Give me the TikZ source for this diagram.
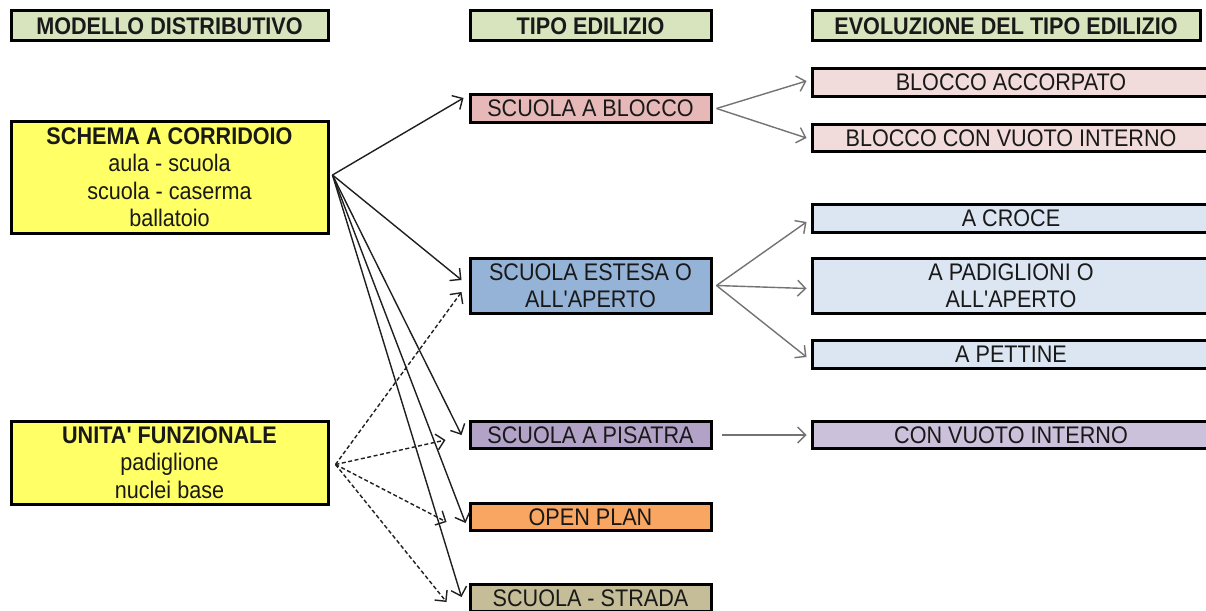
\documentclass[tikz,border=0pt]{standalone}
\usepackage{fontspec}
\newfontfamily\boxfont[FakeStretch=0.9]{Liberation Sans}
\usetikzlibrary{arrows.meta}
\definecolor{hdr}{HTML}{D7E4BD}
\definecolor{yel}{HTML}{FFFF66}
\definecolor{rose}{HTML}{E6B9B8}
\definecolor{rosel}{HTML}{F2DCDB}
\definecolor{blu}{HTML}{95B3D7}
\definecolor{blul}{HTML}{DCE6F2}
\definecolor{lil}{HTML}{B3A2C7}
\definecolor{lill}{HTML}{CCC1DA}
\definecolor{ora}{HTML}{F8A661}
\definecolor{tan}{HTML}{C4BD97}
\begin{document}
\begin{tikzpicture}[x=1pt,y=-1pt,
  box/.style={draw=black,line width=3pt,inner sep=0pt,align=center,
    text=black!90,font=\boxfont\fontsize{24}{26.5}\selectfont},
  hbox/.style={box,fill=hdr,minimum height=30pt,font=\boxfont\fontsize{24}{26}\selectfont\bfseries},
  left/.style={box,fill=yel,minimum width=317pt},
  mid/.style={box,minimum width=241pt,minimum height=27.5pt},
  evo/.style={box,minimum width=398pt,minimum height=27.5pt},
  link/.style={line width=1.4pt,draw=black!88,-{Straight Barb[length=8pt,width=16pt]}},
  dlink/.style={link,dash pattern=on 4pt off 2.5pt},
  glink/.style={link,draw=black!55}]
\useasboundingbox (0,0) rectangle (1206,610);
\fill[white] (0,0) rectangle (1206,610);

% column headers
\node[hbox,minimum width=317pt] (h1) at (169.5,26) {MODELLO DISTRIBUTIVO};
\node[hbox,minimum width=241pt] (h2) at (590.5,26) {TIPO EDILIZIO};
\node[hbox,minimum width=388pt] (h3) at (1006,26) {EVOLUZIONE DEL TIPO EDILIZIO};

% distributive models
\node[left,minimum height=112pt,font=\boxfont\fontsize{24}{27.5}\selectfont] (schema) at (169.5,177)
  {\textbf{SCHEMA A CORRIDOIO}\\aula - scuola\\scuola - caserma\\ballatoio};
\node[left,minimum height=83pt,font=\boxfont\fontsize{24}{27.5}\selectfont] (unita) at (169.5,462.5)
  {\textbf{UNITA' FUNZIONALE}\\padiglione\\nuclei base};

% building types
\node[mid,fill=rose] (blocco) at (590.5,108.5) {SCUOLA A BLOCCO};
\node[mid,fill=blu,minimum height=55pt] (estesa) at (590.5,285.5) {SCUOLA ESTESA O\\ALL'APERTO};
\node[mid,fill=lil] (pisatra) at (590.5,435) {SCUOLA A PISATRA};
\node[mid,fill=ora] (openplan) at (590.5,517) {OPEN PLAN};
\node[mid,fill=tan] (strada) at (590.5,598) {SCUOLA - STRADA};

% evolutions
\node[evo,fill=rosel] (accorpato) at (1011,82.5) {BLOCCO ACCORPATO};
\node[evo,fill=rosel] (vuotob) at (1011,138) {BLOCCO CON VUOTO INTERNO};
\node[evo,fill=blul] (croce) at (1011,218.5) {A CROCE};
\node[evo,fill=blul,minimum height=55pt] (padiglioni) at (1011,285.5) {A PADIGLIONI O\\ALL'APERTO};
\node[evo,fill=blul] (pettine) at (1011,354.5) {A PETTINE};
\node[evo,fill=lill] (vuotop) at (1011,435) {CON VUOTO INTERNO};

% corridor scheme links
\draw[link] ([xshift=3pt,yshift=2pt]schema.east) -- ([xshift=-5pt,yshift=10.5pt]blocco.west);
\draw[link] ([xshift=3pt,yshift=2pt]schema.east) -- ([xshift=-7pt,yshift=5.5pt]estesa.west);
\draw[link] ([xshift=3pt,yshift=2pt]schema.east) -- ([xshift=-7pt]pisatra.west);
\draw[link] ([xshift=3pt,yshift=2pt]schema.east) -- ([xshift=-3pt,yshift=-6pt]openplan.west);
\draw[link] ([xshift=3pt,yshift=2pt]schema.east) -- ([xshift=-7pt,yshift=1pt]strada.west);

% functional unit links
\draw[dlink] ([xshift=6pt,yshift=-2pt]unita.east) -- ([xshift=-7pt,yshift=-6.5pt]estesa.west);
\draw[dlink] ([xshift=6pt,yshift=-2pt]unita.east) -- ([xshift=-23pt,yshift=-5pt]pisatra.west);
\draw[dlink] ([xshift=6pt,yshift=-2pt]unita.east) -- ([xshift=-22pt,yshift=-5pt]openplan.west);
\draw[dlink] ([xshift=6pt,yshift=-2pt]unita.east) -- ([xshift=-22pt,yshift=-4pt]strada.west);

% evolution links
\draw[glink] ([xshift=4pt]blocco.east) -- ([xshift=-4pt,yshift=1.5pt]accorpato.west);
\draw[glink] ([xshift=4pt]blocco.east) -- ([xshift=-4pt]vuotob.west);
\draw[glink] ([xshift=4pt]estesa.east) -- ([xshift=-4pt,yshift=-3.5pt]croce.west);
\draw[glink] ([xshift=4pt]estesa.east) -- ([xshift=-4pt,yshift=-3pt]padiglioni.west);
\draw[glink] ([xshift=4pt]estesa.east) -- ([xshift=-4pt,yshift=-2.5pt]pettine.west);
\draw[glink] ([xshift=9pt]pisatra.east) -- ([xshift=-4pt]vuotop.west);
\end{tikzpicture}
\end{document}
